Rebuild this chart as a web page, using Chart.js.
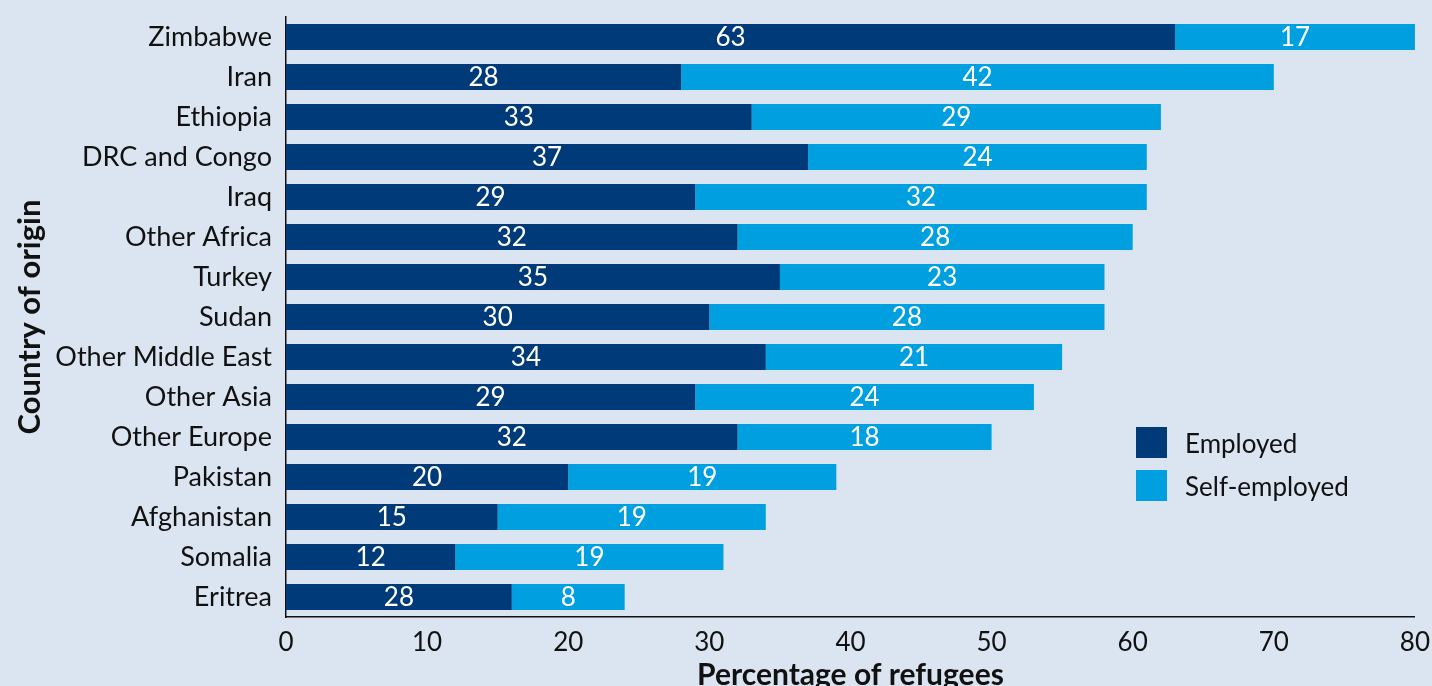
<!DOCTYPE html>
<html>
<head>
<meta charset="utf-8">
<script src="https://cdn.jsdelivr.net/npm/chart.js@4"></script>
<style>
  html, body { margin: 0; padding: 0; background: #dae5f1; }
  #wrap { position: relative; width: 1432px; height: 686px; overflow: hidden; }
  #legend { position: absolute; left: 1136px; top: 427px; font-family: Lato, sans-serif; font-size: 26px; color: #111; }
  .item { display: flex; align-items: center; height: 31px; margin-bottom: 12px; }
  .box { width: 31px; height: 31px; margin-right: 18px; }
</style>
</head>
<body>
<div id="wrap">
  <canvas id="myChart" width="1432" height="686"></canvas>
  <div id="legend"></div>
</div>
<script>
const countries = ['Zimbabwe', 'Iran', 'Ethiopia', 'DRC and Congo', 'Iraq', 'Other Africa', 'Turkey', 'Sudan',
  'Other Middle East', 'Other Asia', 'Other Europe', 'Pakistan', 'Afghanistan', 'Somalia', 'Eritrea'];
const employed = [63, 28, 33, 37, 29, 32, 35, 30, 34, 29, 32, 20, 15, 12, 16];
const selfEmployed = [17, 42, 29, 24, 32, 28, 23, 28, 21, 24, 18, 19, 19, 19, 8];
// numbers printed on the bars (Eritrea reads 28 in the source though the bar is shorter)
const employedLabels = [63, 28, 33, 37, 29, 32, 35, 30, 34, 29, 32, 20, 15, 12, 28];
const selfEmployedLabels = [17, 42, 29, 24, 32, 28, 23, 28, 21, 24, 18, 19, 19, 19, 8];
const xTicks = [0, 10, 20, 30, 40, 50, 60, 70, 80];

const fontFamily = 'Lato, sans-serif';
const ctx = document.querySelector('#myChart');

const barLabels = {
  id: 'barLabels',
  afterDatasetsDraw(chart) {
    const c = chart.ctx;
    c.save();
    c.fillStyle = '#fff';
    c.font = '26px ' + fontFamily;
    c.textAlign = 'center';
    c.textBaseline = 'middle';
    chart.data.datasets.forEach((ds, i) => {
      const meta = chart.getDatasetMeta(i);
      meta.data.forEach((bar, j) => {
        c.fillText(ds.shownLabels[j], (bar.x + bar.base) / 2, bar.y + 1);
      });
    });
    c.restore();
  }
};

const grafico = new Chart(ctx, {
  type: 'bar',
  data: {
    labels: countries,
    datasets: [
      { label: 'Employed', data: employed, shownLabels: employedLabels, backgroundColor: '#003a78' },
      { label: 'Self-employed', data: selfEmployed, shownLabels: selfEmployedLabels, backgroundColor: '#009fe0' }
    ]
  },
  options: {
    indexAxis: 'y',
    responsive: false,
    animation: false,
    layout: { padding: { top: 17, right: 0, left: 0, bottom: 0 } },
    datasets: { bar: { categoryPercentage: 1, barPercentage: 0.65 } },
    plugins: { legend: { display: false }, tooltip: { enabled: false } },
    scales: {
      x: {
        stacked: true,
        min: 0,
        max: 80,
        afterBuildTicks: (s) => { s.ticks = xTicks.map(v => ({ value: v })); },
        afterFit: (s) => { s.height = 69; },
        grid: { display: false },
        border: { display: true, color: '#111', width: 1.5 },
        ticks: { color: '#111', font: { family: fontFamily, size: 26 }, padding: 2, maxRotation: 0 },
        title: { display: true, text: 'Percentage of refugees', color: '#111', font: { family: fontFamily, size: 30, weight: 'bold' }, padding: { top: 0, bottom: -7 } }
      },
      y: {
        stacked: true,
        afterFit: (s) => { s.width = 286; s.paddingTop = 0; s.paddingBottom = 0; },
        grid: { display: false },
        border: { display: true, color: '#111', width: 1.5 },
        ticks: { color: '#111', font: { family: fontFamily, size: 27 }, padding: 6, autoSkip: false },
        title: { display: true, text: 'Country of origin', color: '#111', font: { family: fontFamily, size: 31, weight: 'bold' }, padding: { top: 11, bottom: 0 } }
      }
    }
  },
  plugins: [barLabels]
});

const legend = document.querySelector('#legend');
legend.innerHTML = grafico.data.datasets.map(ds =>
  `<div class="item"><div class="box" style="background:${ds.backgroundColor}"></div>${ds.label}</div>`
).join('');
</script>
</body>
</html>
